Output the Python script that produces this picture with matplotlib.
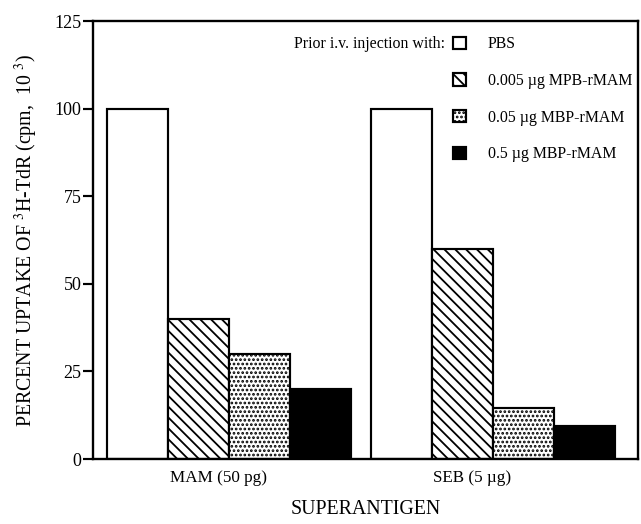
import matplotlib
matplotlib.use("Agg")
from matplotlib import pyplot as plt
import numpy as np

# data
groups = ["MAM (50 pg)", "SEB (5 \u00b5g)"]
series = ["PBS", "0.005 \u00b5g MPB-rMAM", "0.05 \u00b5g MBP-rMAM", "0.5 \u00b5g MBP-rMAM"]
values = [
    [100, 100],   # PBS
    [40, 60],     # 0.005 ug
    [30, 14.5],   # 0.05 ug
    [20, 9.5],    # 0.5 ug
]
yticks = [0, 25, 50, 75, 100, 125]

plt.rcParams['font.family'] = ['Liberation Serif', 'DejaVu Serif']
plt.rcParams['mathtext.fontset'] = 'stix'
plt.rcParams['hatch.linewidth'] = 1.0

DPI = 130
fig = plt.figure(figsize=(641 / DPI, 524 / DPI), dpi=DPI)
ax = fig.add_axes([93 / 641, 65 / 524, 545 / 641, 438 / 524])

styles = [
    dict(facecolor="white", hatch=None),
    dict(facecolor="white", hatch="\\\\\\\\"),
    dict(facecolor="white", hatch="....."),
    dict(facecolor="black", hatch=None),
]

width = 1.0
group_start = np.array([0.23, 4.56])
for i, name in enumerate(series):
    ax.bar(group_start + i * width, values[i], width=width, align="edge",
           edgecolor="black", linewidth=1.2, label=name, **styles[i])

ax.set_xlim(0, 545 / 61)
ax.set_ylim(0, 125)
ax.set_yticks(yticks)
ax.set_xticks([2.05, 6.21])
ax.set_xticklabels(groups, fontsize=9.5)
ax.tick_params(axis="x", length=0, pad=6)
ax.tick_params(axis="y", direction="out", length=5.5, width=1.2, labelsize=10, pad=1)
for s in ax.spines.values():
    s.set_linewidth(1.3)

ax.set_ylabel(r"PERCENT UPTAKE OF $^{3}$H-TdR (cpm,  10 $^{3}$)", fontsize=11, labelpad=8)
ax.set_xlabel("SUPERANTIGEN", fontsize=11, labelpad=8)

leg = ax.legend(loc="upper left", bbox_to_anchor=(0.6606, 0.965), frameon=False,
                fontsize=8.8, handlelength=0.8, handleheight=0.8,
                handletextpad=1.4, labelspacing=1.3, borderpad=0, borderaxespad=0)
ax.text(0.646, 0.948, "Prior i.v. injection with:", transform=ax.transAxes,
        ha="right", va="center", fontsize=8.8)

fig.savefig("out.png", dpi=DPI)
